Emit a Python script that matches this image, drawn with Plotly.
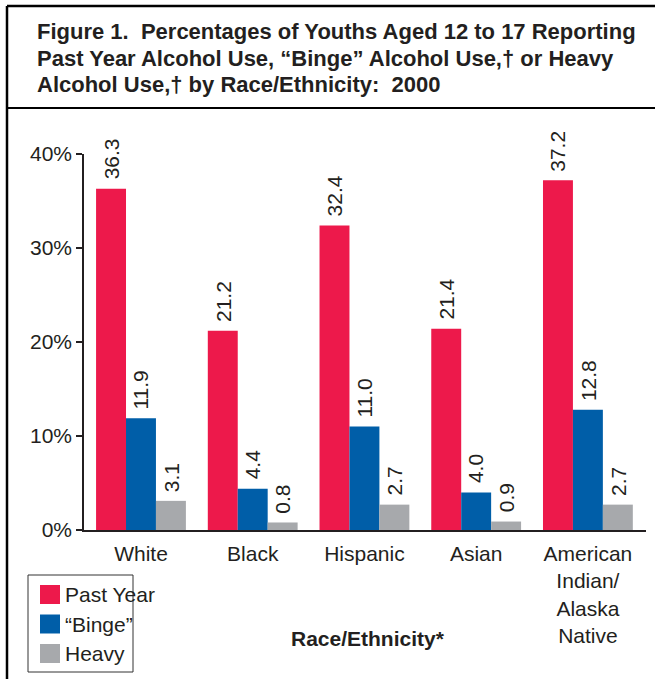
import plotly.graph_objects as go

# Data
categories = ["White", "Black", "Hispanic", "Asian", "American<br>Indian/<br>Alaska<br>Native"]
series_names = ["Past Year", "\u201cBinge\u201d", "Heavy"]
past_year = [36.3, 21.2, 32.4, 21.4, 37.2]
binge = [11.9, 4.4, 11.0, 4.0, 12.8]
heavy = [3.1, 0.8, 2.7, 0.9, 2.7]
y_ticks = [0, 10, 20, 30, 40]
y_tick_labels = [f"{v}%" for v in y_ticks]

colors = ["#ED194B", "#005EA8", "#A7A9AC"]
text_color = "#231F20"
font_family = "Liberation Sans, Arial, Helvetica, sans-serif"

W, H = 655, 679
PL, PR, PT, PB = 84, 646, 154, 530
BARGAP = 0.196


def px(x):
    return (x - PL) / (PR - PL)


def py(y):
    return (PB - y) / (PB - PT)


fig = go.Figure()
all_series = [past_year, binge, heavy]
for name, vals, col in zip(series_names, all_series, colors):
    fig.add_trace(go.Bar(
        x=categories, y=vals, name=name,
        marker=dict(color=col, line=dict(width=0)),
        showlegend=False,
    ))

shapes = []
annotations = []

# Rotated value labels above each bar
n_series = len(all_series)
bar_w = (1 - BARGAP) / n_series
for j, vals in enumerate(all_series):
    offset = (j - (n_series - 1) / 2) * bar_w
    for i, v in enumerate(vals):
        annotations.append(dict(
            text=f"{v:.1f}", xref="x", yref="y",
            x=i + offset, y=v, xanchor="center", yanchor="bottom",
            yshift=7, textangle=-90, showarrow=False,
            font=dict(size=21, color=text_color, family=font_family),
        ))

# Frame and title divider
shapes.append(dict(type="line", xref="paper", yref="paper",
                   x0=px(7), x1=px(660), y0=py(6), y1=py(6),
                   line=dict(color="#000", width=2.5)))
shapes.append(dict(type="line", xref="paper", yref="paper",
                   x0=px(7), x1=px(7), y0=py(6), y1=py(685),
                   line=dict(color="#000", width=2.5)))
shapes.append(dict(type="line", xref="paper", yref="paper",
                   x0=px(7), x1=px(660), y0=py(108), y1=py(108),
                   line=dict(color="#000", width=2)))

# Title lines
title_lines = [
    "Figure 1.  Percentages of Youths Aged 12 to 17 Reporting",
    "Past Year Alcohol Use, \u201cBinge\u201d Alcohol Use,\u2020 or Heavy",
    "Alcohol Use,\u2020 by Race/Ethnicity:  2000",
]
for i, line in enumerate(title_lines):
    annotations.append(dict(
        text=f"<b>{line}</b>", xref="paper", yref="paper",
        x=px(35), y=py(32 + 26 * i), xanchor="left", yanchor="middle",
        showarrow=False, font=dict(size=22, color=text_color, family=font_family),
    ))

# Axis title
annotations.append(dict(
    text="<b>Race/Ethnicity*</b>", xref="paper", yref="paper",
    x=px(368), y=py(638), xanchor="center", yanchor="middle",
    showarrow=False, font=dict(size=21, color=text_color, family=font_family),
))

# Legend box with swatches
shapes.append(dict(type="rect", xref="paper", yref="paper",
                   x0=px(28), x1=px(133), y0=py(575), y1=py(672),
                   line=dict(color="#333", width=1), fillcolor="rgba(0,0,0,0)"))
for i, (name, col) in enumerate(zip(series_names, colors)):
    cy = 594.5 + 29.5 * i
    shapes.append(dict(type="rect", xref="paper", yref="paper",
                       x0=px(40), x1=px(60), y0=py(cy - 9.5), y1=py(cy + 9.5),
                       line=dict(width=0), fillcolor=col))
    annotations.append(dict(
        text=name, xref="paper", yref="paper",
        x=px(63), y=py(cy), xanchor="left", yanchor="middle",
        showarrow=False, font=dict(size=21, color=text_color, family=font_family),
    ))

fig.update_layout(
    width=W, height=H,
    margin=dict(l=PL, r=W - PR, t=PT, b=H - PB, pad=0),
    paper_bgcolor="white", plot_bgcolor="white",
    barmode="group", bargap=BARGAP, bargroupgap=0,
    font=dict(family=font_family, color=text_color, size=21),
    shapes=shapes, annotations=annotations,
)
fig.update_xaxes(
    type="category", range=[-0.51, 4.52],
    showline=True, linecolor="#231F20", linewidth=1.5,
    ticks="", showgrid=False, zeroline=False, ticklabelstandoff=4,
    tickfont=dict(size=21, color=text_color),
)
fig.update_yaxes(
    range=[0, 40], tickmode="array", tickvals=y_ticks, ticktext=y_tick_labels,
    showline=True, linecolor="#231F20", linewidth=1.5,
    ticks="outside", ticklen=6, tickcolor="#231F20", tickwidth=1.5,
    showgrid=False, zeroline=False,
    tickfont=dict(size=21, color=text_color),
)

fig.write_html("out.html")
